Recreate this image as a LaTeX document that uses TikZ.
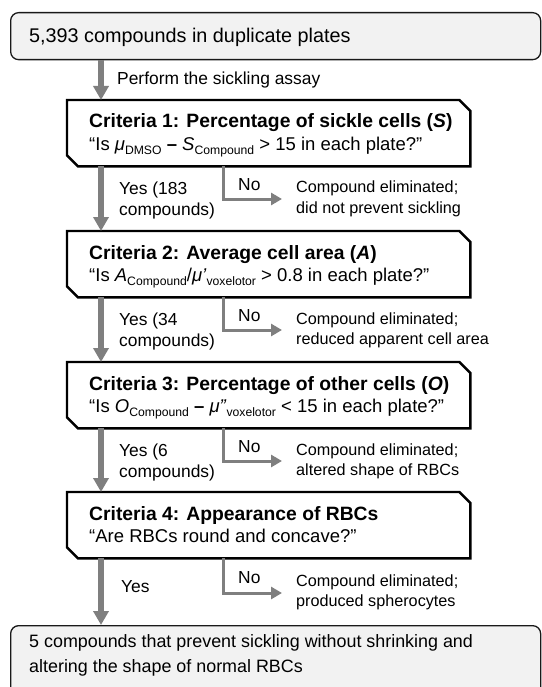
\documentclass[tikz,border=0pt]{standalone}
\usepackage{fontspec}
\setmainfont{Liberation Sans}
\usetikzlibrary{arrows.meta}
\definecolor{arrgray}{HTML}{7F7F7F}
\definecolor{boxfill}{HTML}{F2F2F2}
\newcommand\sbx[1]{\raisebox{-0.22em}{\fontsize{12.2}{12}\selectfont #1}}
\newcommand\chamfbox[1]{\draw[critline] (#1.north west) -- ([xshift=-11pt]#1.north east) -- ([yshift=-11pt]#1.north east) -- (#1.south east) -- ([xshift=11pt]#1.south west) -- ([yshift=11pt]#1.south west) -- cycle;}
\begin{document}
\begin{tikzpicture}[x=1pt,y=-1pt,
  roundbox/.style={draw=black!90, line width=1.3pt, fill=boxfill, rounded corners=8pt, inner sep=0pt, anchor=north west},
  critbox/.style={rectangle, minimum width=401pt, minimum height=64pt, inner sep=0pt, outer sep=1.2pt, anchor=north west},
  critline/.style={draw=black, line width=2.4pt, fill=white, line join=miter},
  txt/.style={inner sep=0pt, anchor=base west},
  titletxt/.style={txt, font=\fontsize{19.8}{24}\selectfont},
  bottxt/.style={txt, font=\fontsize{17.9}{22}\selectfont},
  boldtxt/.style={txt, font=\fontsize{19.3}{23}\selectfont\bfseries},
  quotetxt/.style={txt, font=\fontsize{18.5}{22}\selectfont},
  labtxt/.style={txt, font=\fontsize{17.4}{21}\selectfont},
  elimtxt/.style={txt, font=\fontsize{16.2}{20}\selectfont},
  mainarr/.style={draw=arrgray, line width=5.5pt, -{Triangle[width=15pt,length=14pt]}, arrgray},
  brarr/.style={draw=arrgray, line width=3pt, -{Triangle[width=12pt,length=11pt]}, arrgray},
]
\useasboundingbox (0,0) rectangle (541,687);

% boxes
\node[roundbox, minimum width=530pt, minimum height=47pt] (top) at (10,12) {};
\node[critbox] (c1) at (67,100) {};
\node[critbox] (c2) at (67,231) {};
\node[critbox] (c3) at (67,362) {};
\node[critbox] (c4) at (67,492) {};
\chamfbox{c1}
\chamfbox{c2}
\chamfbox{c3}
\chamfbox{c4}
\node[roundbox, minimum width=530pt, minimum height=80pt] (bot) at (10,625) {};

\coordinate (ax) at (101,0);
\coordinate (bx) at (223,0);

% texts in boxes
\node[titletxt] (t0) at (29,43) {5,393 compounds in duplicate plates};
\node[labtxt] (perf) at (117,84.5) {Perform the sickling assay};

\node[boldtxt] (c1a) at (89,128) {Criteria 1: Percentage of sickle cells (\textit{S})};
\node[quotetxt] (c1b) at (89,150) {“Is \textit{μ}\sbx{DMSO} \textbf{–} \textit{S}\sbx{Compound} > 15 in each plate?”};
\node[boldtxt] (c2a) at (89,259) {Criteria 2: Average cell area (\textit{A})};
\node[quotetxt] (c2b) at (89,281) {“Is \textit{A}\sbx{Compound}/\textit{μ’}\sbx{voxelotor} > 0.8 in each plate?”};
\node[boldtxt] (c3a) at (89,390) {Criteria 3: Percentage of other cells (\textit{O})};
\node[quotetxt] (c3b) at (89,412) {“Is \textit{O}\sbx{Compound} \textbf{–} \textit{μ”}\sbx{voxelotor} < 15 in each plate?”};
\node[boldtxt] (c4a) at (89,520) {Criteria 4: Appearance of RBCs};
\node[quotetxt] (c4b) at (89,542) {“Are RBCs round and concave?”};

\node[bottxt] (b1) at (29,647) {5 compounds that prevent sickling without shrinking and};
\node[bottxt] (b2) at (29,672) {altering the shape of normal RBCs};

% yes labels
\node[labtxt] (y1a) at (119,194) {Yes (183};
\node[labtxt] (y1b) at (119,215) {compounds)};
\node[labtxt] (y2a) at (119,325) {Yes (34};
\node[labtxt] (y2b) at (119,346) {compounds)};
\node[labtxt] (y3a) at (119,456) {Yes (6};
\node[labtxt] (y3b) at (119,477) {compounds)};
\node[labtxt] (y4) at (121,592) {Yes};

% no labels
\node[labtxt] (n1) at (238,190) {No};
\node[labtxt] (n2) at (238,321) {No};
\node[labtxt] (n3) at (238,452) {No};
\node[labtxt] (n4) at (238,583) {No};

% eliminated texts
\node[elimtxt] (e1a) at (296,193) {Compound eliminated;};
\node[elimtxt] (e1b) at (296,213) {did not prevent sickling};
\node[elimtxt] (e2a) at (296,324) {Compound eliminated;};
\node[elimtxt] (e2b) at (296,344) {reduced apparent cell area};
\node[elimtxt] (e3a) at (296,455) {Compound eliminated;};
\node[elimtxt] (e3b) at (296,475) {altered shape of RBCs};
\node[elimtxt] (e4a) at (296,586) {Compound eliminated;};
\node[elimtxt] (e4b) at (296,606) {produced spherocytes};

\coordinate (k1) at (282,199);
\coordinate (k2) at (282,330);
\coordinate (k3) at (282,461);
\coordinate (k4) at (282,593);

% main arrows
\draw[mainarr] (top.south -| ax) -- (c1.north -| ax);
\draw[mainarr] (c1.south -| ax) -- (c2.north -| ax);
\draw[mainarr] (c2.south -| ax) -- (c3.north -| ax);
\draw[mainarr] (c3.south -| ax) -- (c4.north -| ax);
\draw[mainarr] (c4.south -| ax) -- (bot.north -| ax);

% no branches
\draw[brarr] (c1.south -| bx) |- (k1);
\draw[brarr] (c2.south -| bx) |- (k2);
\draw[brarr] (c3.south -| bx) |- (k3);
\draw[brarr] (c4.south -| bx) |- (k4);
\end{tikzpicture}
\end{document}
